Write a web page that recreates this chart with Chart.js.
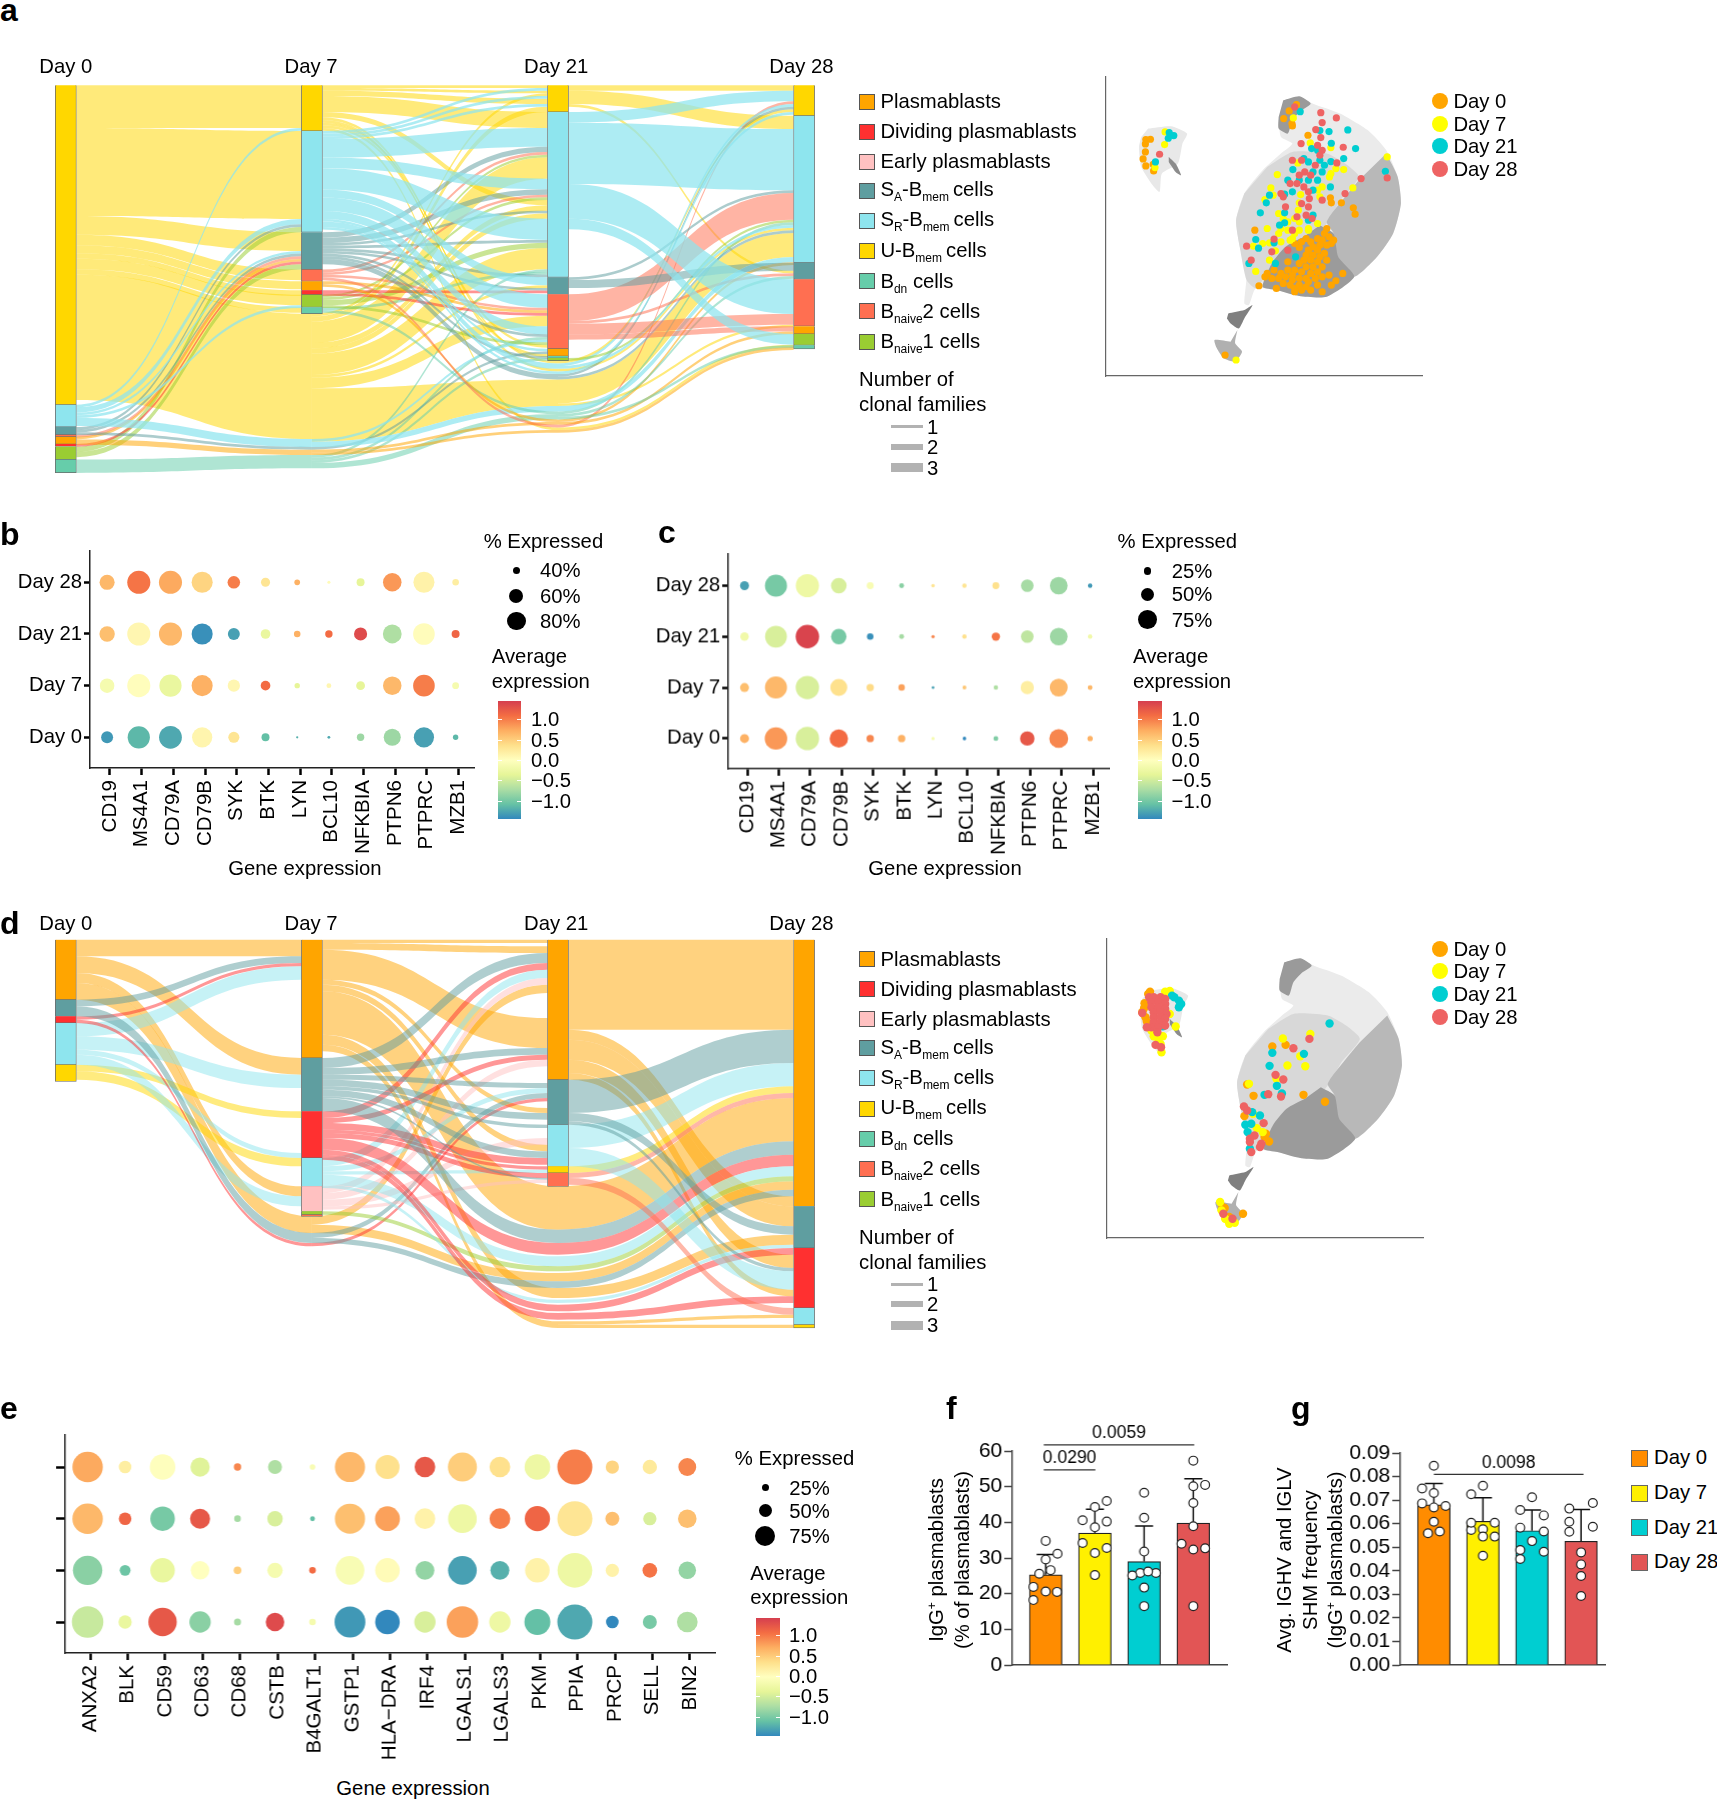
<!DOCTYPE html>
<html>
<head>
<meta charset="utf-8">
<title>Clonal families</title>
<script src="https://cdn.jsdelivr.net/npm/chart.js@4/dist/chart.umd.js"></script>
<style>
  html, body { margin: 0; padding: 0; background: #fff; }
  #page { position: relative; width: 1717px; height: 1800px; overflow: hidden;
          font-family: "Liberation Sans", Arial, sans-serif; color: #000; }
  #page canvas { position: absolute; }
  .t { position: absolute; white-space: nowrap; font-size: 20.3px; line-height: 1; transform: translateY(-50%); }
  .c { transform: translate(-50%, -50%); }
  .r { transform: translate(-50%, -50%) rotate(-90deg); text-align: center; line-height: 25.5px; }
  .t sub { font-size: 12px; line-height: 0; vertical-align: -5px; }
  .t sup { font-size: 12px; line-height: 0; vertical-align: 7px; }
  .k { position: absolute; }
</style>
</head>
<body>
<div id="page"></div>
<script>
// ---- sankey data, in clonal families. ":" marks a lineage absent from that day
const stages = ['Day 0', 'Day 7', 'Day 21', 'Day 28'];
const cellColors = { P: '#FFA500', D: '#FF3030', E: '#FFC1C1', A: '#5F9EA0', R: '#8EE5EE', U: '#FFD700', B: '#66CDAA', N2: '#FF6F51', N1: '#9ACD32' };

const aDay0 = [['U', 119.75], ['R', 8.4], ['A', 2.9], ['N2', 0.75], ['P', 2.75], ['D', 0.9], ['N1', 4.9], ['B', 4.9]];
const aDay7 = [['U', 17.1], ['R', 38], ['A', 14], ['N2', 4.4], ['P', 3.4], ['D', 1.6], ['N1', 4.75], ['B', 2.4]];
const aDay21 = [['U', 10], ['R', 62], ['A', 6.4], ['N2', 20.4], ['P', 2.75], ['B', 0.75], ['N1', 1]];
const aDay28 = [['U', 11.4], ['R', 55.1], ['A', 6.25], ['N2', 17.6], ['P', 2.9], ['N1', 4.25], ['B', 1.4]];
const aAbsent7 = ['U:1', 'R:1', 'A:1', 'P:1', 'B:1'];
const aAbsent21 = ['U:a', 'R:a', 'U:b', 'R:b', 'A:a', 'U:c', 'R:c', 'B:a', 'P:a', 'N2:a', 'U:d', 'P:b'];
// [from, to, families] or [from, to, families at the end, families at the start]; "-" is empty space
const aFlow0 = [
  ['U', 'U', 16], ['R', 'U', 1],
  ['U', 'R', 33], ['R', 'R', 2], ['A', 'R', 1], ['N1', 'R', 2],
  ['U', 'A', 7], ['R', 'A', 1], ['A', 'A', 1], ['N2', 'A', 1], ['P', 'A', 1], ['D', 'A', 1], ['N1', 'A', 2],
  ['U', 'N2', 4], ['U', 'P', 3], ['U', 'D', 2], ['U', 'N1', 4], ['R', 'N1', 1], ['U', 'B', 2],
  ['U', 'U:1', 47], ['R', 'R:1', 3], ['A', 'A:1', 1], ['P', 'P:1', 2], ['B', 'B:1', 5]
];
const aFlow1 = [
  ['U', 'U', 1], ['R', 'U', 1], ['U', 'U', 1], ['U:1', 'U', 1], ['R', 'U', 1], ['U', 'U', 2], ['R', 'U', 1], ['U:1', 'U', 2],
  ['U', 'R', 6], ['R', 'R', 7], ['A', 'R', 2], ['N2', 'R', 1], ['N1', 'R', 1], ['U:1', 'R', 8], ['R', 'R', 4], ['A', 'R', 2],
  ['N2', 'R', 1], ['N1', 'R', 1], ['U', 'R', 2], ['U:1', 'R', 2], ['A', 'R', 1], ['U:1', 'R', 2], ['R', 'R', 8], ['A', 'R', 1],
  ['N1', 'R', 2], ['U:1', 'R', 8], ['B:1', 'R', 1], ['B', 'R', 1], ['A', 'R', 1],
  ['R', 'A', 3], ['U:1', 'A', 1], ['A', 'A', 1], ['D', 'A', 1],
  ['R', 'N2', 5], ['N2', 'N2', 1], ['P', 'N2', 1], ['D', 'N2', 1], ['U:1', 'N2', 4], ['R', 'N2', 3], ['A', 'N2', 1],
  ['B:1', 'N2', 1], ['R:1', 'N2', 1], ['N1', 'N2', 1], ['U', 'N2', 1],
  ['R', 'P', 1], ['A:1', 'P', 1], ['U', 'P', 1], ['A', 'B', 1], ['B:1', 'N1', 1],
  ['U', 'U:a', 1], ['R', 'R:a', 2], ['U', 'U:b', 1], ['R', 'R:b', 1], ['A', 'A:a', 2], ['U:1', 'U:c', 10, 20],
  ['R:1', 'R:c', 2], ['B', 'B:a', 1], ['B:1', 'B:a', 2], ['P', 'P:a', 1], ['P:1', 'P:a', 1], ['N2', 'N2:a', 1], ['U', 'U:d', 1], ['P:1', 'P:b', 1]
];
const aFlow2 = [
  ['U', 'U', 2], ['R', 'U', 4], ['N2:a', 'U', 1], ['R:a', 'U', 1], ['A:a', 'U', 1], ['U:a', 'U', 1], ['R:b', 'U', 1],
  ['U', 'R', 5], ['R', 'R', 23], ['A', 'R', 1], ['N2', 'R', 10], ['N1', 'R', 1], ['B:a', 'R', 1], ['R:a', 'R', 1], ['U:b', 'R', 1],
  ['A:a', 'R', 1], ['U:c', 'R', 9], ['R:c', 'R', 2], ['P:a', 'R', 1],
  ['A', 'A', 3], ['U', 'A', 1], ['N2', 'A', 1], ['B:a', 'A', 1],
  ['R', 'N2', 13], ['N2', 'N2', 4], ['U:c', 'N2', 1],
  ['N2', 'P', 2], ['P:a', 'P', 1], ['R', 'N1', 4], ['U:d', 'N1', 1], ['B:a', 'B', 1], ['P:b', 'N1', 1]
];

const dDay0 = [['P', 18], ['A', 5], ['D', 2], ['R', 12.5], ['U', 5]];
const dDay7 = [['P', 35.5], ['A', 16], ['D', 14], ['R', 8.5], ['E', 7.5], ['N1', 1], ['N2', 0.5]];
const dDay21 = [['P', 42], ['A', 13.5], ['R', 12.5], ['U', 2], ['N2', 4]];
const dDay28 = [['P', 80], ['A', 12.5], ['D', 18], ['R', 5], ['U', 1]];
const dAbsent7 = ['P:x', 'A:x', 'D:x'];
const dAbsent21 = ['P:a', 'A:a', 'D:a', 'G:1', 'R:a', 'N1:a', 'G:2', 'P:b', 'A:b', 'P:c', 'G:3', 'R:b', 'G:4', 'D:b', 'G:5', 'D:c', 'G:6', 'P:d'];
const dFlow0 = [
  ['P', 'P', 5], ['A', 'P', 2], ['D', 'P', 1], ['R', 'P', 4], ['-', 'P', 23.5],
  ['P', 'A', 5], ['R', 'A', 4], ['-', 'A', 7],
  ['U', 'D', 2], ['-', 'D', 10.5], ['R', 'D', 1.5],
  ['U', 'R', 2.5], ['-', 'R', 6],
  ['P', 'E', 3], ['R', 'E', 3],
  ['P', 'P:x', 5], ['A', 'A:x', 3], ['D', 'D:x', 1]
];
const dFlow1 = [
  ['P', 'P', 1], ['-', 'P', 1], ['P', 'P', 2], ['A', 'P', 3], ['D', 'P', 2], ['R', 'P', 2.5], ['E', 'P', 2], ['P:x', 'P', 2.5],
  ['-', 'P', 7.5], ['P', 'P', 9], ['A', 'P', 2], ['D', 'P', 1.5], ['E', 'P', 2], ['-', 'P', 2.5],
  ['-', 'A', 1], ['A', 'A', 1.5], ['R', 'A', 1.5], ['A:x', 'A', 1.5], ['D:x', 'A', 1], ['-', 'A', 2], ['P', 'A', 1.5], ['A', 'A', 2],
  ['A', 'R', 1], ['-', 'R', 3], ['E', 'R', 2], ['P', 'R', 2], ['A', 'R', 2], ['D', 'R', 2],
  ['D', 'U', 1], ['R', 'U', 1],
  ['D', 'N2', 1.5], ['A', 'N2', 0.5], ['E', 'N2', 1],
  ['P', 'P:a', 13], ['A', 'A:a', 4], ['D', 'D:a', 3.5], ['-', 'G:1', 0.5], ['R', 'R:a', 3], ['N1', 'N1:a', 1.5, 1], ['-', 'G:2', 0.5],
  ['P:x', 'P:b', 2.5], ['A:x', 'A:b', 2, 1.5], ['P', 'P:c', 3], ['-', 'G:3', 0.5], ['R', 'R:b', 1], ['-', 'G:4', 0.5],
  ['D', 'D:b', 2, 1.5], ['-', 'G:5', 0.5], ['D', 'D:c', 2, 1.5], ['-', 'G:6', 0.5], ['P', 'P:d', 2]
];
const dFlow2 = [
  ['P', 'P', 27], ['A', 'P', 10], ['R', 'P', 7], ['U', 'P', 2], ['N2', 'P', 1.5], ['P:a', 'P', 13], ['A:a', 'P', 4], ['D:a', 'P', 3.5],
  ['R:a', 'P', 3], ['N1:a', 'P', 1.5], ['P:b', 'P', 2.5], ['A:b', 'P', 2], ['P', 'P', 3],
  ['P', 'A', 6], ['A', 'A', 2.5], ['P:c', 'A', 3], ['R:b', 'A', 1],
  ['D:b', 'D', 2], ['P', 'D', 4], ['A', 'D', 1], ['R', 'D', 5.5], ['P', 'D', 2], ['D:c', 'D', 2],
  ['N2', 'R', 2], ['P:d', 'R', 1], ['P:d', 'U', 1]
];

// ---- UMAP outlines and cells
const umapOuter = [[965,185],[1000,170],[1030,190],[1090,220],[1150,270],[1190,330],[1215,410],[1222,490],[1205,580],[1170,650],[1120,710],[1060,770],[1000,768],[950,750],[905,745],[890,795],[880,790],[885,700],[870,620],[862,540],[880,460],[920,390],[960,340],[985,310],[960,290],[955,240]];
const umapMid = [[930,380],[985,335],[1060,340],[1100,370],[1130,410],[1090,480],[1060,550],[1040,580],[960,640],[930,700],[905,745],[885,720],[870,620],[862,540],[880,460]];
const umapRight = [[1190,340],[1215,410],[1222,490],[1205,580],[1170,650],[1120,710],[1080,660],[1075,580],[1060,545],[1100,470],[1130,420]];
const umapBottom = [[1045,555],[1075,580],[1085,650],[1120,710],[1060,770],[1000,768],[950,750],[920,740],[940,670],[970,620],[1010,590]];
const umapCap = [[965,180],[1000,168],[1025,190],[1005,210],[985,240],[975,280],[955,265],[955,230]];
const umapIsland = [[670,265],[720,258],[755,280],[745,310],[735,370],[700,400],[695,455],[680,435],[655,380],[650,320],[655,290]];
const umapTail = [[715,350],[730,370],[742,405],[730,395],[715,365]];
const umapNeck = [[845,820],[880,810],[898,795],[880,835],[868,865],[850,850],[842,835]];
const umapTip = [[865,870],[860,910],[875,935],[860,965],[835,955],[820,925],[815,900],[850,905]];

const aCells0 = [[665,298],[675,297],[664,311],[664,335],[659,356],[665,377],[682,392],[681,372],[994,193],[978,212],[966,235],[984,250],[985,257],[1019,285],[1118,503],[1122,522],[1092,488],[1070,488],[1068,473],[903,570],[912,737],[838,945],
  [1060,565],[1055,580],[1065,590],[1075,600],[1050,600],[1040,595],[1070,610],[1060,615],[1045,615],[1025,605],[1015,595],[1005,605],[1030,620],[1020,630],[1040,630],[1000,622],[990,610],[1015,645],[1030,645],[1045,650],[1055,640],[1060,660],[1040,665],[1025,660],[1010,660],[1000,670],[1015,680],[1030,680],[1050,680],[1040,695],[1025,700],[1005,695],[990,690],[975,690],[960,700],[945,690],[930,700],[925,710],[940,715],[955,715],[970,710],[985,705],[985,720],[1000,715],[1015,715],[1035,715],[1050,710],[1065,705],[1080,722],[1095,700],[950,745],[965,730],[980,735],[990,745],[1000,735],[1015,740],[1025,750],[1040,735],[1020,725],[1005,750],[990,755],[1050,755],[1070,735],[975,665]];
const aCells7 = [[707,275],[706,313],[685,382],[862,960],[987,233],[1192,350],[1024,308],[1069,322],[1097,388],[1069,400],[1066,410],[1117,443],[952,403],[997,368],[938,443],[943,465],[925,478],[1003,463],[1040,450],[1050,440],[1045,470],[1000,488],[998,510],[955,520],[965,535],[1040,550],[1020,565],[1000,545],[990,535],[975,545],[960,565],[955,580],[975,570],[990,580],[985,595],[1000,570],[930,565],[935,608],[920,610],[900,618],[948,632],[935,660],[905,694],[1080,385],[980,600],[960,605],[1020,570]];
const aCells21 = [[716,277],[726,286],[714,294],[686,365],[1002,214],[1045,271],[1065,274],[1106,269],[1070,309],[1123,325],[1027,325],[1040,330],[1010,355],[1020,365],[1045,360],[1069,364],[1097,355],[1030,395],[1055,375],[986,388],[975,420],[1000,420],[1020,420],[1030,450],[1068,440],[1188,393],[985,455],[968,462],[935,465],[928,488],[1040,420],[1050,395],[915,518],[968,518],[957,555],[968,548],[1020,540],[905,598],[911,624],[890,670],[948,670],[992,650],[945,608],[1030,525]];
const aCells28 = [[695,342],[1047,217],[1081,233],[1050,247],[1036,268],[1047,292],[1004,310],[1040,315],[1096,321],[1050,330],[1045,345],[985,360],[1005,360],[1035,375],[1082,368],[1012,395],[1000,405],[1025,405],[1135,415],[1192,413],[1100,460],[980,430],[995,430],[1010,440],[960,460],[965,470],[1020,455],[1022,475],[970,500],[1005,490],[1050,480],[1020,500],[1015,525],[995,530],[985,570],[945,597],[940,635],[885,618],[895,660],[975,630],[990,200],[1028,535]];

const dCells0 = [[668,275],[660,303],[659,318],[655,330],[662,345],[665,358],[672,268],[939,433],[968,428],[884,547],[898,581],[1007,578],[1054,599],[878,642],[875,935],[835,918],[925,695],[932,718],[922,705],[830,915],[845,945]];
const dCells7 = [[705,268],[715,266],[710,270],[715,335],[728,373],[680,402],[700,402],[690,410],[697,450],[695,425],[675,385],[962,409],[1022,395],[1000,462],[972,490],[1011,492],[888,545],[948,530],[897,635],[905,678],[918,690],[825,900],[828,925],[836,950],[845,965],[857,962],[842,955]];
const dCells21 = [[725,285],[735,295],[740,305],[735,315],[700,372],[720,280],[1064,364],[939,452],[1008,455],[933,491],[949,551],[960,574],[922,578],[912,640],[880,668],[893,665],[885,690],[890,740],[895,630]];
const dCells28 = [[670,285],[680,285],[695,285],[705,290],[675,300],[690,300],[705,305],[675,315],[690,315],[705,320],[680,330],[695,330],[708,335],[680,345],[695,345],[705,350],[680,360],[695,360],[675,375],[690,375],[705,370],[688,390],[684,428],[696,435],[655,332],[665,375],[985,438],[1020,410],[946,518],[963,532],[958,583],[930,576],[877,613],[884,625],[920,663],[900,700],[890,710],[915,725],[912,735],[893,750],[832,935],[852,950],[890,720]];

// ---- dot plots: rows run top to bottom
const dayRows = ['Day 0', 'Day 7', 'Day 21', 'Day 28'];
const genesBC = ['CD19', 'MS4A1', 'CD79A', 'CD79B', 'SYK', 'BTK', 'LYN', 'BCL10', 'NFKBIA', 'PTPN6', 'PTPRC', 'MZB1'];
const genesE = ['ANXA2', 'BLK', 'CD59', 'CD63', 'CD68', 'CSTB', 'B4GALT1', 'GSTP1', 'HLA−DRA', 'IRF4', 'LGALS1', 'LGALS3', 'PKM', 'PPIA', 'PRCP', 'SELL', 'BIN2'];
const bExpr = [
  [0.65, 1.05, 0.75, 0.45, 1.0, 0.3, 0.7, 0.05, -0.35, 0.85, 0.15, 0.2],
  [0.6, 0.1, 0.65, -1.4, -1.3, -0.3, 0.7, 1.1, 1.35, -0.7, 0.03, 1.15],
  [-0.15, 0.02, -0.3, 0.7, 0.1, 1.1, -0.35, 0.1, -0.35, 0.65, 1.0, -0.15],
  [-1.35, -1.15, -1.25, 0.12, 0.3, -1.1, -1.2, -1.25, -0.8, -0.8, -1.3, -1.15]
];
const bPct = [
  [67, 95, 95, 88, 58, 46, 34, 25, 42, 79, 88, 37],
  [68, 95, 95, 88, 56, 48, 37, 40, 60, 80, 90, 42],
  [65, 95, 92, 88, 57, 48, 33, 31, 45, 79, 90, 38],
  [56, 92, 94, 85, 53, 42, 22, 24, 40, 74, 85, 33]
];
const cExpr = [
  [-1.3, -1.0, -0.25, -0.45, -0.1, -0.9, 0.3, 0.3, 0.35, -0.75, -0.8, -1.35],
  [-0.2, -0.45, 1.4, -1.0, -1.4, -0.75, 0.95, 0.35, 1.05, -0.6, -0.8, -0.2],
  [0.6, 0.65, -0.45, 0.35, 0.4, 0.8, -1.3, 0.55, -0.7, 0.2, 0.65, 0.65],
  [0.7, 0.85, -0.45, 1.1, 0.95, 0.7, -0.15, -1.45, -0.95, 1.25, 0.95, 0.7]
];
const cPct = [
  [32, 89, 94, 61, 23, 14, 8, 12, 23, 48, 70, 12],
  [30, 88, 95, 60, 21, 14, 7, 12, 29, 48, 70, 12],
  [32, 89, 95, 67, 25, 21, 5, 10, 12, 51, 71, 14],
  [32, 91, 95, 73, 25, 25, 7, 8, 14, 56, 75, 16]
];
const eExpr = [
  [0.75, 0.2, -0.02, -0.4, 0.95, -0.7, -0.1, 0.65, 0.35, 1.25, 0.5, 0.35, -0.25, 1.0, 0.45, 0.25, 0.95],
  [0.65, 1.15, -1.0, 1.25, -0.75, -0.45, -1.1, 0.6, 0.8, 0.15, -0.25, 1.0, 1.15, 0.3, 0.6, -0.45, 0.6],
  [-0.9, -1.05, -0.3, 0, 0.5, -0.15, 1.1, -0.1, 0.05, -0.85, -1.3, -1.2, 0.15, -0.25, 0.15, 1.05, -0.85],
  [-0.55, -0.3, 1.25, -0.9, -0.75, 1.35, -0.15, -1.35, -1.45, -0.45, 0.8, -0.25, -1.1, -1.25, -1.5, -1.0, -0.7]
];
const ePct = [
  [87, 36, 73, 55, 21, 40, 16, 86, 69, 59, 83, 59, 73, 100, 38, 41, 51],
  [87, 36, 70, 57, 19, 44, 14, 86, 71, 59, 82, 59, 72, 100, 40, 38, 53],
  [84, 31, 70, 53, 22, 44, 19, 82, 70, 54, 82, 54, 70, 99, 38, 42, 50],
  [90, 38, 81, 61, 20, 53, 19, 88, 70, 61, 90, 61, 74, 100, 36, 40, 59]
];

// ---- bar panels
const barColors = ['#FF8C00', '#FFF000', '#00CED1', '#E25555'];
const fMeans = [25.3, 37, 29, 39.8];
const fTops = [31, 43.7, 39, 52.2];
const fDots = [[0,34.8],[0.24,31.2],[0,29.6],[0.1,26.6],[-0.13,25.6],[-0.25,21.9],[0,20.6],[0.23,20.5],[-0.25,18.2],
  [1.24,46],[1,44.3],[0.75,40.6],[1.24,40.2],[1,38.6],[0.75,34.2],[1.24,32.8],[1,31.4],[1,25.2],
  [2,48.3],[2,41.3],[2,31.8],[1.92,25.8],[1.76,25.1],[2.24,25.8],[2.08,26.2],[2,21.7],[2,16.5],
  [3,57.3],[3,50.1],[3.24,50.5],[3,45.4],[3,38.9],[2.76,34],[3.24,32.7],[3,32.4],[3,16.5]];
const fBrackets = [[-0.04, 3.02, 61.7, '0.0059'], [-0.04, 1.01, 54.7, '0.0290']];
const gMeans = [0.068, 0.061, 0.057, 0.0525];
const gTops = [0.077, 0.071, 0.0658, 0.066];
const gDots = [[0,0.0846],[-0.24,0.0749],[0,0.073],[-0.24,0.0686],[0,0.0669],[0.24,0.0675],[0,0.0608],[-0.12,0.0559],[0.12,0.0567],
  [1,0.0761],[0.76,0.0725],[1.24,0.0604],[1,0.0576],[0.76,0.0573],[1,0.0545],[1.24,0.0545],[1,0.0464],[0.76,0.0604],
  [2,0.0712],[1.76,0.0658],[2.24,0.0635],[1.76,0.0583],[2.24,0.0567],[2,0.0526],[1.76,0.0488],[2.24,0.0481],[1.76,0.045],
  [3.24,0.0688],[2.76,0.0664],[3.24,0.0587],[2.76,0.0608],[2.76,0.0566],[3,0.0478],[3,0.0427],[3,0.0378],[3,0.0293]];
const gBrackets = [[0, 3.05, 0.0809, '0.0098']];
const gTicks = [0, 0.01, 0.02, 0.03, 0.04, 0.05, 0.06, 0.07, 0.08, 0.09];

// ---- legend text
const cellLegend = [
  ['P', 'Plasmablasts'], ['D', 'Dividing plasmablasts'], ['E', 'Early plasmablasts'],
  ['A', 'S<sub>A</sub>-B<sub>mem</sub>&#8201;cells'], ['R', 'S<sub>R</sub>-B<sub>mem</sub>&#8201;cells'], ['U', 'U-B<sub>mem</sub>&#8201;cells'],
  ['B', 'B<sub>dn</sub> cells'], ['N2', 'B<sub>naive</sub>2 cells'], ['N1', 'B<sub>naive</sub>1 cells']
];
const dayColors = ['#FFA500', '#FFFF00', '#00CED1', '#EE6363'];
const colorTicks = ['1.0', '0.5', '0.0', '−0.5', '−1.0'];
const spectral = ['#D53E4F', '#F46D43', '#FDAE61', '#FEE08B', '#FFFFBF', '#E6F598', '#ABDDA4', '#66C2A5', '#3288BD'];

// ---- helpers
Chart.defaults.font.family = '"Liberation Sans", Arial, sans-serif';
Chart.defaults.color = '#000';
Chart.defaults.animation = false;
Chart.defaults.plugins.legend.display = false;
Chart.defaults.plugins.tooltip.enabled = false;

const page = document.getElementById('page');

function text(html, x, y, cls, size) {
  const el = document.createElement('div');
  el.className = 't' + (cls ? ' ' + cls : '');
  el.style.left = x + 'px';
  el.style.top = y + 'px';
  if (size) el.style.fontSize = size + 'px';
  el.innerHTML = html;
  page.appendChild(el);
  return el;
}
function rect(x, y, w, h, css) {
  const el = document.createElement('div');
  el.className = 'k';
  el.style.cssText = `left:${x}px;top:${y}px;width:${w}px;height:${h}px;${css}`;
  page.appendChild(el);
}
function canvasAt(l, t, w, h) {
  const c = document.createElement('canvas');
  c.width = w; c.height = h;
  c.style.left = l + 'px'; c.style.top = t + 'px';
  c.style.width = w + 'px'; c.style.height = h + 'px';
  page.appendChild(c);
  return c;
}
function rgba(hex, a) {
  const n = parseInt(hex.slice(1), 16);
  return `rgba(${n >> 16},${(n >> 8) & 255},${n & 255},${a})`;
}
function mix(c1, c2, f) {
  const a = parseInt(c1.slice(1), 16), b = parseInt(c2.slice(1), 16);
  const ch = s => Math.round(((a >> s) & 255) * (1 - f) + ((b >> s) & 255) * f);
  return `rgb(${ch(16)},${ch(8)},${ch(0)})`;
}
function exprColor(v) {
  const p = Math.min(7.999, Math.max(0, (1.45 - v) / 2.9 * 8));
  const i = Math.floor(p);
  return mix(spectral[i], spectral[i + 1], p - i);
}

// axes with a fixed plot rectangle, so the panels line up with the page
function framed(l, t, r, b, mL, mT, mR, mB) {
  return {
    canvas: canvasAt(l - mL, t - mT, r - l + mL + mR, b - t + mT + mB),
    padding: { left: 0, top: mT, right: mR, bottom: 0 },
    fitX: s => { s.height = mB; },
    fitY: s => { s.width = mL; }
  };
}

function sankey(columns, absents, flows, geom, alpha) {
  // node starts, absent tracks stacked under the real nodes of their day
  const starts = columns.map(c => {
    const o = {}; let y = 0;
    c.forEach(([k, v]) => { o[k] = y; y += v; });
    o._end = y;
    return o;
  });
  flows.forEach((list, i) => {
    const order = absents[i + 1] || [];
    const size = {};
    list.forEach(f => { if (f[1].includes(':')) size[f[1]] = (size[f[1]] || 0) + f[2]; });
    let y = starts[i + 1]._end;
    order.forEach(k => { starts[i + 1][k] = y; y += size[k] || 0; });
  });
  const bars = [], colors = [];
  columns.forEach((c, i) => c.forEach(([k, v]) => {
    bars.push({ x: i, y: [starts[i][k], starts[i][k] + v] });
    colors.push(cellColors[k]);
  }));
  const ribbons = {
    id: 'ribbons',
    beforeDatasetsDraw(chart) {
      const { ctx, scales: { x, y } } = chart;
      const half = geom.bar / 2;
      const out = starts.map(() => ({})), inn = starts.map(() => ({}));
      const shapes = [];
      flows.forEach((list, i) => list.forEach(f => {
        const [src, dst, val, srcVal] = f;
        const sv = srcVal === undefined ? val : srcVal;
        const s0 = (starts[i][src] || 0) + (out[i][src] || 0);
        const d0 = (starts[i + 1][dst] || 0) + (inn[i + 1][dst] || 0);
        out[i][src] = (out[i][src] || 0) + sv;
        inn[i + 1][dst] = (inn[i + 1][dst] || 0) + val;
        if (src === '-' || dst === '-') return;
        shapes.push({ i, src, dst, key: src.split(':')[0], s0, d0, val, sv });
      }));
      // the broad main colour goes underneath, so thin ribbons stay visible over it
      shapes.sort((a, b) => (a.key === geom.under ? 0 : 1) - (b.key === geom.under ? 0 : 1));
      shapes.forEach(({ i, src, dst, key, s0, d0, val, sv }) => {
        const x0 = x.getPixelForValue(i) + (src.includes(':') ? 0 : half);
        const x1 = x.getPixelForValue(i + 1) - (dst.includes(':') ? 0 : half);
        const xm = (x0 + x1) / 2;
        ctx.fillStyle = rgba(cellColors[key], key === 'R' ? alpha.R : alpha.all);
        ctx.beginPath();
        ctx.moveTo(x0, y.getPixelForValue(s0));
        ctx.bezierCurveTo(xm, y.getPixelForValue(s0), xm, y.getPixelForValue(d0), x1, y.getPixelForValue(d0));
        ctx.lineTo(x1, y.getPixelForValue(d0 + val));
        ctx.bezierCurveTo(xm, y.getPixelForValue(d0 + val), xm, y.getPixelForValue(s0 + sv), x0, y.getPixelForValue(s0 + sv));
        ctx.closePath();
        ctx.fill();
      });
    }
  };
  new Chart(canvasAt(0, geom.top, 860, geom.height), {
    type: 'bar',
    data: { datasets: [{ data: bars, backgroundColor: colors, borderColor: '#6a6a6a', borderWidth: 0.8, barThickness: geom.bar }] },
    options: {
      responsive: false,
      layout: { padding: 0 },
      scales: {
        x: { type: 'linear', display: false, offset: false, min: geom.xMin, max: geom.xMax },
        y: { display: false, reverse: true, min: geom.yMin, max: geom.yMax }
      }
    },
    plugins: [ribbons]
  });
  stages.forEach((s, i) => text(s, 65.8 + 245.2 * i, geom.labelY, 'c'));
}

function umap(l, t, r, b, cells, radius) {
  const f = framed(l, t, r, b, 30, 30, 30, 30);
  const shade = (data, color) => ({ type: 'scatter', data, showLine: true, fill: 'shape', backgroundColor: color, borderColor: color, borderWidth: 0, pointRadius: 0, tension: 0.2 });
  const datasets = [3, 2, 1, 0].map(i => ({ type: 'scatter', data: cells[i], backgroundColor: dayColors[i], borderWidth: 0, pointRadius: radius }));
  // later datasets paint first
  datasets.push(shade(umapTip, '#b0b0b0'), shade(umapNeck, '#808080'), shade(umapTail, '#8c8c8c'), shade(umapIsland, '#e8e8e8'),
    shade(umapCap, '#9a9a9a'), shade(umapBottom, '#9b9b9b'), shade(umapRight, '#b8b8b8'), shade(umapMid, '#d8d8d8'), shade(umapOuter, '#ebebeb'));
  const axis = { ticks: { display: false }, grid: { display: false }, border: { display: true, color: '#666', width: 1.2 } };
  new Chart(f.canvas, {
    type: 'scatter',
    data: { datasets },
    options: {
      responsive: false,
      layout: { padding: f.padding },
      scales: {
        x: { ...axis, type: 'linear', min: 578, max: 1268, afterFit: f.fitX },
        y: { ...axis, type: 'linear', reverse: true, min: 110, max: 1008, afterFit: f.fitY }
      }
    }
  });
}

function dotPlot(box, genes, expr, pct, rowLabels, radius, tickW) {
  const f = framed(box.l, box.t, box.r, box.b, 100, 20, 20, 110);
  const n = expr.length - 1;
  const points = [], colors = [];
  expr.forEach((row, i) => row.forEach((v, j) => {
    points.push({ x: j, y: n - i, r: radius(pct[i][j]) });
    colors.push(exprColor(v));
  }));
  new Chart(f.canvas, {
    type: 'bubble',
    data: { datasets: [{ data: points, backgroundColor: colors, borderWidth: 0 }] },
    options: {
      responsive: false,
      layout: { padding: f.padding },
      scales: {
        x: {
          type: 'linear', min: box.xMin, max: box.xMax, afterFit: f.fitX,
          border: { display: true, color: '#222', width: 1.5 },
          grid: { drawOnChartArea: false, tickLength: 7, tickWidth: 2.5, tickColor: '#000' },
          // the ticks sit a little to the right of the dots in the source figure
          afterBuildTicks: s => { s.ticks = genes.map((g, j) => ({ value: j + box.tickShift })); },
          ticks: { autoSkip: false, minRotation: 90, maxRotation: 90, padding: 5,
            font: { size: 20.5 }, callback: v => genes[Math.round(v)] }
        },
        y: {
          type: 'linear', min: box.yMin, max: box.yMax, afterFit: f.fitY,
          border: { display: true, color: '#222', width: 1.5 },
          grid: { drawOnChartArea: false, tickLength: tickW, tickWidth: 2.5, tickColor: '#000' },
          ticks: { stepSize: 1, includeBounds: false, autoSkip: false, padding: 2, font: { size: 20.3 },
            callback: v => (rowLabels ? rowLabels[v] : '') }
        }
      }
    }
  });
}

function barPanel(box, means, tops, dots, brackets, yOpts) {
  const f = framed(box.l, box.t, box.r, box.b, 90, 50, 10, 30);
  const overlay = {
    id: 'overlay',
    afterDatasetDraw(chart, args) {
      if (args.index !== 1) return;
      const { ctx, scales: { x, y } } = chart;
      ctx.strokeStyle = '#111';
      ctx.lineWidth = 1.5;
      means.forEach((m, i) => {
        const px = x.getPixelForValue(i), y0 = y.getPixelForValue(m), y1 = y.getPixelForValue(tops[i]);
        ctx.beginPath();
        ctx.moveTo(px, y0); ctx.lineTo(px, y1);
        ctx.moveTo(px - 9, y1); ctx.lineTo(px + 9, y1);
        ctx.stroke();
      });
    },
    afterDraw(chart) {
      const { ctx, scales: { x, y } } = chart;
      ctx.strokeStyle = '#333';
      ctx.lineWidth = 1.3;
      ctx.fillStyle = '#000';
      ctx.font = '17.5px "Liberation Sans", Arial, sans-serif';
      ctx.textAlign = 'center';
      ctx.textBaseline = 'bottom';
      brackets.forEach(([a, b, v, label]) => {
        const py = y.getPixelForValue(v);
        ctx.beginPath();
        ctx.moveTo(x.getPixelForValue(a), py);
        ctx.lineTo(x.getPixelForValue(b), py);
        ctx.stroke();
        ctx.fillText(label, (x.getPixelForValue(a) + x.getPixelForValue(b)) / 2, py - 3);
      });
    }
  };
  new Chart(f.canvas, {
    type: 'bar',
    data: {
      datasets: [
        { type: 'scatter', data: dots.map(d => ({ x: d[0], y: d[1] })), backgroundColor: '#fff', borderColor: '#222', borderWidth: 1.2, pointRadius: 4.4 },
        { type: 'bar', data: means.map((m, i) => ({ x: i, y: m })), backgroundColor: barColors, borderColor: '#222', borderWidth: 1.2, barThickness: 32.5 }
      ]
    },
    options: {
      responsive: false,
      layout: { padding: f.padding },
      scales: {
        x: { type: 'linear', min: box.xMin, max: box.xMax, offset: false, afterFit: f.fitX,
          ticks: { display: false }, grid: { display: false }, border: { display: true, color: '#444', width: 1.5 } },
        y: { min: yOpts.min, max: yOpts.max, afterFit: f.fitY,
          border: { display: true, color: '#444', width: 1.5 },
          grid: { drawOnChartArea: false, tickLength: 8, tickWidth: 1.5, tickColor: '#444' },
          ticks: { stepSize: yOpts.step, autoSkip: false, padding: 2, font: { size: 21 }, callback: yOpts.format } }
      }
    },
    plugins: [overlay]
  });
}

function cellKey(dy) {
  const ys = [101, 131, 161, 189, 219, 249.5, 280.7, 310.7, 341];
  cellLegend.forEach(([k, label], i) => {
    rect(859, [101, 131, 161, 190, 220, 250.7, 280.7, 310.7, 341][i] + dy - 7.5, 14, 14, `background:${cellColors[k]};border:1px solid #555;box-sizing:content-box;`);
    text(label, 880.4, ys[i] + dy);
  });
  text('Number of', 859, 379.3 + dy);
  text('clonal families', 859, 404 + dy);
  [[426.7, 3, '1'], [446.7, 6, '2'], [467.7, 9, '3']].forEach(([y, h, n]) => {
    rect(890.5, y + dy - h / 2, 32, h, 'background:#b2b2b2;');
    text(n, 927, y + dy);
  });
}
function dayKey(ys) {
  ys.forEach((y, i) => {
    rect(1432, y - 8, 16, 16, `background:${dayColors[i]};border-radius:50%;`);
    text(dayRows[i], 1453.4, y);
  });
}
function sizeKey(x, y, dotX, textX, ys, labels, sizes) {
  text('% Expressed', x, y);
  ys.forEach((v, i) => {
    rect(dotX - sizes[i], v - sizes[i], sizes[i] * 2, sizes[i] * 2, 'background:#000;border-radius:50%;');
    text(labels[i], textX, v);
  });
}
function colorKey(barL, barW, top, textX, tickYs) {
  const stops = spectral.join(',');
  rect(barL, top, barW, 118, `background:linear-gradient(to bottom,${stops});`);
  colorTicks.forEach((t, i) => {
    rect(barL, tickYs[i], 4, 1, 'background:#fff;');
    rect(barL + barW - 4, tickYs[i], 4, 1, 'background:#fff;');
    text(t, textX, tickYs[i]);
  });
}

// ---- panel a
sankey([aDay0, aDay7, aDay21, aDay28], [[], aAbsent7, aAbsent21, []], [aFlow0, aFlow1, aFlow2],
  { top: 70, height: 420, bar: 21, xMin: -0.2674, xMax: 3.2271, yMin: -5.74, yMax: 151.76, labelY: 65.7, under: 'U' },
  { all: 0.52, R: 0.72 });
cellKey(0);
umap(1106, 77, 1422, 376, [aCells0, aCells7, aCells21, aCells28], 3.6);
dayKey([101, 123.7, 146.3, 169.3]);

// ---- panel b
dotPlot({ l: 89.8, t: 550.7, r: 474, b: 767.7, xMin: -0.54, xMax: 11.58, yMin: -0.594, yMax: 3.606, tickShift: 0.09 },
  genesBC, bExpr, bPct, dayRows, p => 3.7 + (p - 40) * 0.1425, 6);
sizeKey(483.7, 541, 516.3, 540, [570.3, 595.7, 621], ['40%', '60%', '80%'], [3.7, 7, 9.4]);
text('Average', 491.8, 656);
text('expression', 491.8, 681);
colorKey(497.5, 23.3, 701, 531, [719, 739.7, 760, 780.3, 800.7]);
text('Gene expression', 304.9, 868, 'c');

// ---- panel c
dotPlot({ l: 728.2, t: 554, r: 1108.6, b: 768.7, xMin: -0.52, xMax: 11.6, yMin: -0.593, yMax: 3.62, tickShift: 0.09 },
  genesBC, cExpr, cPct, dayRows, p => Math.max(1, 3.7 + (p - 25) * 0.114), 6);
sizeKey(1117.6, 541, 1147.8, 1171.8, [571, 594.3, 619.7], ['25%', '50%', '75%'], [3.7, 6.5, 9.4]);
text('Average', 1133, 656);
text('expression', 1133, 681);
colorKey(1138.4, 23.6, 701, 1171.6, [719, 739.7, 760, 780.3, 800.7]);
text('Gene expression', 945, 868, 'c');

// ---- panel d
sankey([dDay0, dDay7, dDay21, dDay28], [[], dAbsent7, dAbsent21, []], [dFlow0, dFlow1, dFlow2],
  { top: 930, height: 440, bar: 21, xMin: -0.2674, xMax: 3.2271, yMin: -2.91, yMax: 129.09, labelY: 922.7, under: 'P' },
  { all: 0.5, R: 0.5 });
cellKey(857.7);
umap(1107, 939.3, 1423, 1238.3, [dCells0, dCells7, dCells21, dCells28], 4.2);
dayKey([949, 971.3, 994, 1016.7]);

// ---- panel e
dotPlot({ l: 64.9, t: 1435, r: 714.7, b: 1653.3, xMin: -0.6, xMax: 16.74, yMin: -0.6, yMax: 3.62, tickShift: 0.07 },
  genesE, eExpr, ePct, null, p => p * 0.175, 9);
sizeKey(734.8, 1457.7, 765.2, 789.3, [1487.7, 1510.7, 1535.7], ['25%', '50%', '75%'], [3.5, 6.7, 10]);
text('Average', 750.3, 1572.7);
text('expression', 750.3, 1597.3);
colorKey(756, 23.6, 1617.7, 789, [1635.3, 1655.7, 1676, 1696.3, 1717]);
text('Gene expression', 413, 1788, 'c');

// ---- panels f, g
barPanel({ l: 1012, t: 1450.7, r: 1226.7, b: 1665, xMin: -0.679, xMax: 3.685 }, fMeans, fTops, fDots, fBrackets,
  { min: 0, max: 60, step: 10, format: v => v });
text('IgG<sup>+</sup> plasmablasts<br>(% of plasmablasts)', 949, 1560, 'r');
barPanel({ l: 1400, t: 1453, r: 1604.5, b: 1665, xMin: -0.684, xMax: 3.488 }, gMeans, gTops, gDots, gBrackets,
  { min: gTicks[0], max: gTicks[gTicks.length - 1], step: 0.01, format: v => v.toFixed(2) });
text('Avg. IGHV and IGLV<br>SHM frequency<br>(IgG<sup>+</sup> plasmablasts)', 1310, 1560, 'r');
[1457, 1492, 1526.7, 1561].forEach((y, i) => {
  rect(1631, y - 7.5, 15, 15, `background:${barColors[i]};border:1px solid #666;`);
  text(dayRows[i], 1654, y);
});

// ---- panel letters
[['a', 0, 10], ['b', 0, 534], ['c', 658, 532], ['d', 0, 923], ['e', 0, 1408], ['f', 946, 1408], ['g', 1291, 1408]]
  .forEach(([l, x, y]) => { text(l, x, y, null, 32).style.fontWeight = 'bold'; });
</script>
</body>
</html>
